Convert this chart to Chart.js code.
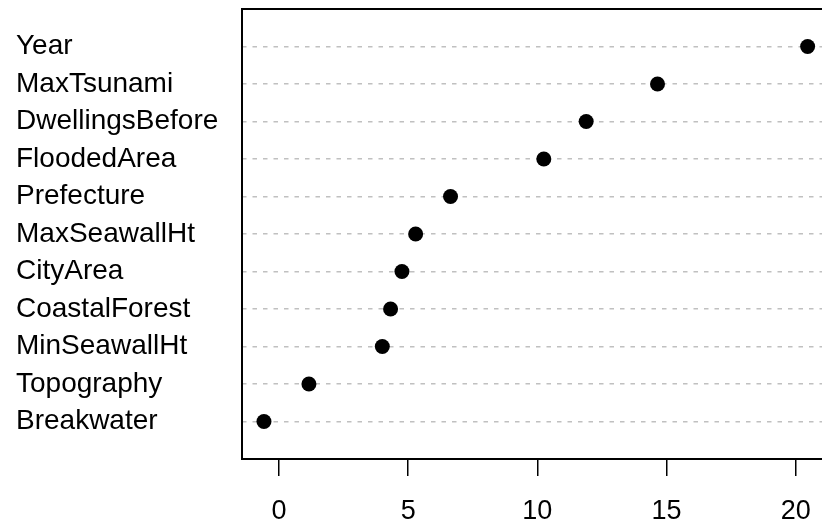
<!DOCTYPE html>
<html>
<head>
<meta charset="utf-8">
<script src="https://cdnjs.cloudflare.com/ajax/libs/Chart.js/4.4.0/chart.umd.min.js"></script>
<style>
  html, body { margin: 0; padding: 0; background: #fff; overflow: hidden; }
  #wrap { width: 840px; height: 527px; }
</style>
</head>
<body>
<div id="wrap"><canvas id="chart" width="840" height="527"></canvas></div>
<script>
// dotchart values, top row first
const variables = ['Year', 'MaxTsunami', 'DwellingsBefore', 'FloodedArea', 'Prefecture',
  'MaxSeawallHt', 'CityArea', 'CoastalForest', 'MinSeawallHt', 'Topography', 'Breakwater'];
const importance = [20.46, 14.65, 11.89, 10.25, 6.64, 5.29, 4.76, 4.32, 4.00, 1.16, -0.58];
const xTicks = [0, 5, 10, 15, 20];
const xRange = [-1.43, 21.31];

const n = variables.length;
const points = importance.map((v, i) => ({ x: v, y: n - i }));

Chart.defaults.font.family = '"Liberation Sans", Arial, Helvetica, sans-serif';
Chart.defaults.color = '#000';

// R style box round the plot region
const framePlugin = {
  id: 'frame',
  beforeDatasetsDraw(chart) {
    const { ctx, chartArea: a } = chart;
    ctx.save();
    ctx.strokeStyle = '#000';
    ctx.lineWidth = 2;
    ctx.strokeRect(a.left, a.top, a.right - a.left, a.bottom - a.top);
    ctx.restore();
  }
};

new Chart(document.getElementById('chart'), {
  type: 'scatter',
  data: {
    datasets: [{
      data: points,
      pointRadius: 7.5,
      pointHoverRadius: 7.5,
      pointBackgroundColor: '#000',
      pointBorderColor: '#000',
      pointBorderWidth: 0
    }]
  },
  options: {
    responsive: false,
    animation: false,
    events: [],
    layout: { padding: { left: 16, top: 9, right: 10.4, bottom: 0 } },
    plugins: { legend: { display: false }, tooltip: { enabled: false } },
    scales: {
      x: {
        type: 'linear',
        min: xRange[0],
        max: xRange[1],
        afterBuildTicks: (s) => { s.ticks = xTicks.map(v => ({ value: v })); },
        afterFit: (s) => { s.height = 68; s.paddingLeft = 0; s.paddingRight = 0; },
        grid: { drawOnChartArea: false, drawTicks: true, tickLength: 17, color: '#000', lineWidth: 1.5 },
        border: { display: false },
        ticks: { font: { size: 27 }, padding: 19, maxRotation: 0 }
      },
      y: {
        type: 'linear',
        min: 0,
        max: n + 1,
        afterBuildTicks: (s) => { s.ticks = variables.map((_, i) => ({ value: n - i })); },
        afterFit: (s) => { s.width = 226; s.paddingTop = 0; s.paddingBottom = 0; },
        grid: { drawTicks: false, color: '#c0c0c0', lineWidth: 1.5 },
        border: { display: false, dash: [4.5, 6] },
        ticks: {
          font: { size: 28 },
          crossAlign: 'far',
          padding: 10,
          callback: (v) => variables[n - v]
        }
      }
    }
  },
  plugins: [framePlugin]
});
</script>
</body>
</html>
